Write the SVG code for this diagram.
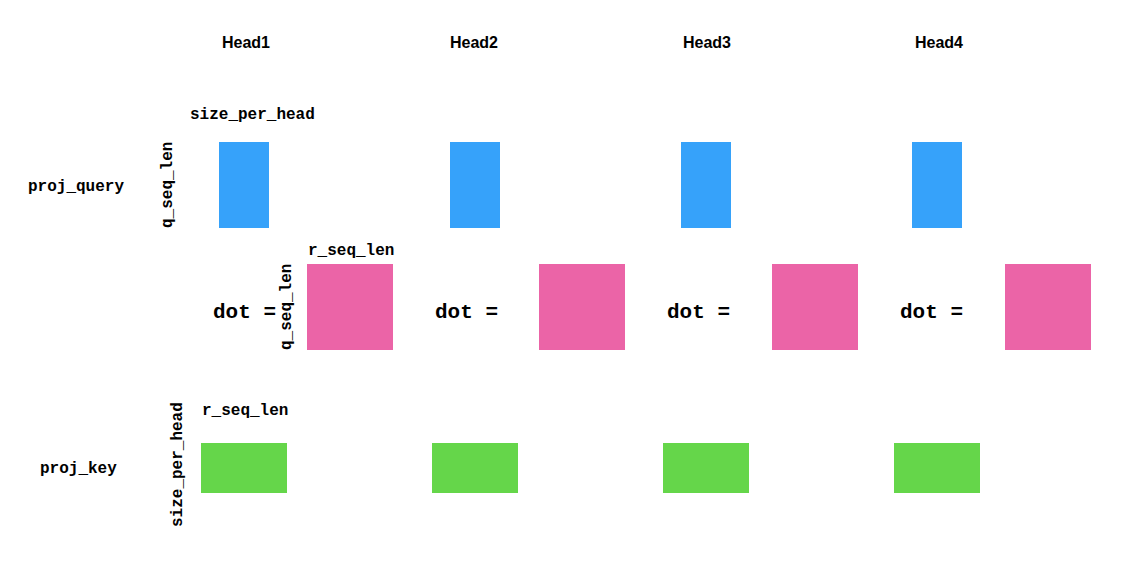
<svg xmlns="http://www.w3.org/2000/svg" width="1144" height="562" viewBox="0 0 1144 562">
<style>
.h{font-family:"Liberation Sans",Arial,sans-serif;font-weight:bold;font-size:16px;fill:#000;text-anchor:middle}
.m{font-family:"Liberation Mono","Courier New",monospace;font-weight:bold;font-size:16px;fill:#000}
.d{font-family:"Liberation Mono","Courier New",monospace;font-weight:bold;font-size:21px;fill:#000}
.q{fill:#36A2FA}
.p{fill:#EB64A7}
.k{fill:#65D64A}
</style>
<rect width="1144" height="562" fill="#fff"/>
<g id="labels">
<text class="m" x="28" y="191">proj_query</text>
<text class="m" x="40" y="473">proj_key</text>
</g>
<g id="head1">
<text class="h" x="246" y="48">Head1</text>
<text class="m" x="190" y="119">size_per_head</text>
<text class="m" transform="translate(172,228) rotate(-90)">q_seq_len</text>
<rect class="q" x="219" y="142" width="50" height="86"/>
<text class="d" x="213" y="318">dot =</text>
<text class="m" x="308" y="255">r_seq_len</text>
<text class="m" transform="translate(291,350) rotate(-90)">q_seq_len</text>
<rect class="p" x="307" y="264" width="86" height="86"/>
<text class="m" x="202" y="415">r_seq_len</text>
<text class="m" transform="translate(182,527) rotate(-90)">size_per_head</text>
<rect class="k" x="201" y="443" width="86" height="50"/>
</g>
<g id="head2">
<text class="h" x="474" y="48">Head2</text>
<rect class="q" x="450" y="142" width="50" height="86"/>
<text class="d" x="435" y="318">dot =</text>
<rect class="p" x="539" y="264" width="86" height="86"/>
<rect class="k" x="432" y="443" width="86" height="50"/>
</g>
<g id="head3">
<text class="h" x="707" y="48">Head3</text>
<rect class="q" x="681" y="142" width="50" height="86"/>
<text class="d" x="667" y="318">dot =</text>
<rect class="p" x="772" y="264" width="86" height="86"/>
<rect class="k" x="663" y="443" width="86" height="50"/>
</g>
<g id="head4">
<text class="h" x="939" y="48">Head4</text>
<rect class="q" x="912" y="142" width="50" height="86"/>
<text class="d" x="900" y="318">dot =</text>
<rect class="p" x="1005" y="264" width="86" height="86"/>
<rect class="k" x="894" y="443" width="86" height="50"/>
</g>
<g id="connectors"></g>
</svg>
